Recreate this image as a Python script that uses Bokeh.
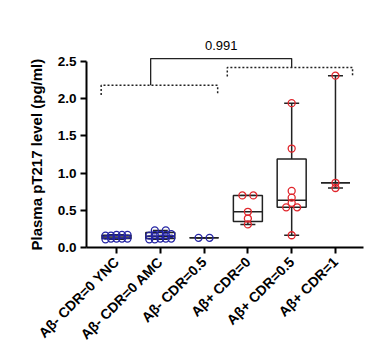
import math
import numpy as np
from bokeh.plotting import figure
from bokeh.models import FixedTicker, NumeralTickFormatter, Range1d, Title
from bokeh.core.properties import value
from bokeh.embed import file_html
from bokeh.resources import INLINE

# ---------------- data ----------------
groups = ["A\u03b2- CDR=0 YNC", "A\u03b2- CDR=0 AMC", "A\u03b2- CDR=0.5",
          "A\u03b2+ CDR=0", "A\u03b2+ CDR=0.5", "A\u03b2+ CDR=1"]

ync = [0.17, 0.17, 0.16, 0.17, 0.16, 0.12, 0.12, 0.11, 0.12, 0.12]
amc = [0.23, 0.23, 0.17, 0.17, 0.18, 0.17, 0.16, 0.12, 0.11, 0.12, 0.12, 0.11]
neg_cdr05 = [0.13, 0.13]
pos_cdr0 = [0.70, 0.70, 0.48, 0.39, 0.31]
pos_cdr05 = [1.94, 1.33, 0.76, 0.67, 0.60, 0.54, 0.54, 0.165]
pos_cdr1 = [2.31, 0.87, 0.80]
group_values = [ync, amc, neg_cdr05, pos_cdr0, pos_cdr05, pos_cdr1]

box_min = [0.11, 0.11, 0.13, 0.31, 0.165, 0.80]
box_q1 = [0.12, 0.12, 0.13, 0.35, 0.54, 0.87]
box_med = [0.14, 0.15, 0.13, 0.48, 0.635, 0.87]
box_q3 = [0.165, 0.20, 0.13, 0.70, 1.19, 0.87]
box_max = [0.17, 0.23, 0.13, 0.70, 1.94, 2.31]

y_ticks = [0.0, 0.5, 1.0, 1.5, 2.0, 2.5]
y_label = "Plasma pT217 level (pg/ml)"
p_value_label = "0.991"

# ---------------- layout ----------------
W, H = 380, 354
BL, BR, BT, BB = 86, 17, 30, 107
X0, X1 = -0.685, 5.64
Y0, Y1 = 0.0, 2.917
frame_w = W - BL - BR
frame_h = H - BT - BB
px_x = frame_w / (X1 - X0)
px_y = frame_h / (Y1 - Y0)

BLUE = "#2424a4"
RED = "#e0262c"
colors = [BLUE, BLUE, BLUE, RED, RED, RED]
FONT = "Liberation Sans"

p = figure(width=W, height=H, output_backend="svg", toolbar_location=None,
           x_range=Range1d(X0, X1), y_range=Range1d(Y0, Y1),
           min_border_left=BL, min_border_right=BR,
           min_border_top=BT, min_border_bottom=BB)
p.outline_line_color = None
p.grid.visible = False
p.background_fill_color = "white"
p.border_fill_color = "white"

# axes
for ax in (p.xaxis[0], p.yaxis[0]):
    ax.axis_line_width = 2
    ax.axis_line_color = "black"
    ax.major_tick_line_width = 2
    ax.major_tick_line_color = "black"
    ax.major_tick_out = 6
    ax.major_tick_in = 0
    ax.minor_tick_line_color = None
    ax.major_label_text_font = FONT
    ax.major_label_text_font_style = "bold"
    ax.major_label_text_color = "black"

p.yaxis.major_label_text_font_size = "13.5px"
p.yaxis.ticker = FixedTicker(ticks=y_ticks)
p.yaxis.formatter = NumeralTickFormatter(format="0.0")
p.yaxis.bounds = (0, 2.5)
p.yaxis.major_label_standoff = 4

# y axis title: starts at the bottom of the axis, like the reference
p.add_layout(Title(text=y_label, align="left", offset=-3, text_font=FONT,
                   text_font_style="bold", text_font_size="15px",
                   text_color="black", standoff=20), "left")

p.xaxis.major_label_text_font_size = "14px"
p.xaxis.ticker = FixedTicker(ticks=list(range(len(groups))))
p.xaxis.major_label_overrides = {i: g for i, g in enumerate(groups)}
p.xaxis.major_label_orientation = math.pi / 4
p.xaxis.major_label_standoff = 6


# scatter layout: bin points into rows, spread each row symmetrically
def rows_offsets(vals, row_px=3.5, gap_px=11.0, max_half_px=11.0):
    order = sorted(range(len(vals)), key=lambda k: vals[k])
    rows, cur, start = [], [], None
    for k in order:
        if cur and (vals[k] - start) * px_y > row_px:
            rows.append(cur)
            cur = []
        if not cur:
            start = vals[k]
        cur.append(k)
    if cur:
        rows.append(cur)
    offs = [0.0] * len(vals)
    for r in rows:
        n = len(r)
        if n == 1:
            continue
        gap = min(gap_px, 2 * max_half_px / (n - 1))
        for j, k in enumerate(r):
            offs[k] = (j - (n - 1) / 2) * gap / px_x
    return offs


BW = 29 / px_x   # box width
CW = 15 / px_x   # cap width
xs = np.arange(len(groups), dtype=float)

# whiskers
p.segment(x0=xs, y0=box_min, x1=xs, y1=box_max, line_color="#222222", line_width=1.5)
p.segment(x0=xs - CW / 2, y0=box_min, x1=xs + CW / 2, y1=box_min, line_color="#222222", line_width=1.5)
p.segment(x0=xs - CW / 2, y0=box_max, x1=xs + CW / 2, y1=box_max, line_color="#222222", line_width=1.5)
# boxes
p.quad(left=xs - BW / 2, right=xs + BW / 2, bottom=box_q1, top=box_q3,
       fill_color="white", line_color="#222222", line_width=1.5)
p.segment(x0=xs - BW / 2, y0=box_med, x1=xs + BW / 2, y1=box_med, line_color="#222222", line_width=1.5)

# points
for i, vals in enumerate(group_values):
    offs = rows_offsets(vals)
    p.scatter(x=[i + o for o in offs], y=vals, marker="circle", size=7,
              line_color=colors[i], line_width=1.3, fill_alpha=0)

# significance brackets
dot = dict(line_color="#222222", line_width=1.5, line_dash="2 2")
p.line(x=[-0.35, -0.35, 2.31, 2.31], y=[2.05, 2.18, 2.18, 2.05], **dot)
p.line(x=[2.53, 2.53, 5.39, 5.39], y=[2.30, 2.42, 2.42, 2.30], **dot)
p.line(x=[0.78, 0.78, 4.0, 4.0], y=[2.18, 2.54, 2.54, 2.42], line_color="#222222", line_width=1.3)
p.text(x=[2.39], y=[2.71], text=[p_value_label], text_font=value(FONT),
       text_font_size="13px", text_align="center", text_baseline="middle", text_color="black")

open("out.html", "w").write(file_html(p, INLINE))
